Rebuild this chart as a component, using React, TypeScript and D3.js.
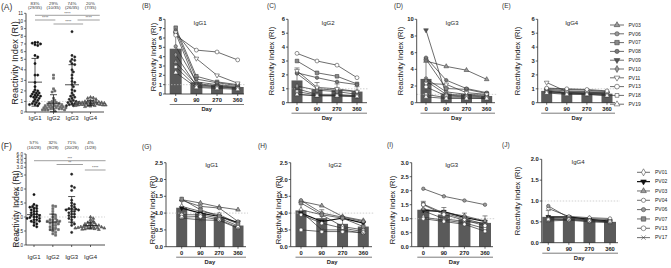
import React from "react";
import * as d3 from "d3";

const FONT = "'Liberation Sans', Arial, Helvetica, sans-serif";

// ---------------- Data ----------------
const scatterGroups = ["IgG1", "IgG2", "IgG3", "IgG4"];

const aPercents = ["83%", "29%", "74%", "20%"];
const aCounts = ["(29/35)", "(10/35)", "(26/35)", "(7/35)"];
const aIgG1 = [7.2, 7.2, 7.1, 7.0, 6.9, 6.8, 5.5, 5.3, 4.6, 3.5, 3.5, 2.8, 2.4, 2.1, 2.0, 1.9, 1.8, 1.8, 1.7, 1.6, 1.6, 1.5, 1.5, 1.4, 1.4, 1.3, 1.2, 1.1, 1.0, 0.9, 0.8, 0.8, 0.7, 0.7, 0.6];
const aIgG2 = [3.5, 3.2, 2.2, 2.0, 1.9, 1.3, 1.1, 1.0, 0.9, 0.9, 0.8, 0.8, 0.7, 0.7, 0.7, 0.6, 0.6, 0.6, 0.5, 0.5, 0.5, 0.5, 0.4, 0.4, 0.4, 0.4, 0.3, 0.3, 0.3, 0.3, 0.2, 0.2, 0.2, 0.2, 0.1];
const aIgG3 = [8.6, 5.5, 5.3, 5.0, 4.9, 4.8, 4.6, 4.5, 4.0, 3.8, 3.5, 3.2, 2.9, 2.8, 2.6, 2.4, 2.1, 2.0, 1.8, 1.6, 1.5, 1.4, 1.3, 1.2, 1.1, 1.0, 1.0, 0.9, 0.9, 0.8, 0.8, 0.7, 0.7, 0.6, 0.6];
const aIgG4 = [1.4, 1.35, 1.3, 1.2, 1.1, 1.05, 1.0, 1.0, 0.95, 0.95, 0.9, 0.9, 0.9, 0.85, 0.85, 0.85, 0.8, 0.8, 0.8, 0.8, 0.75, 0.75, 0.75, 0.7, 0.7, 0.7, 0.7, 0.65, 0.65, 0.65, 0.6, 0.6, 0.6, 0.55, 0.5];
const aTicks = [0, 1, 2, 3, 4, 5, 6, 7, 8, 9, 10, 11];
// [from group, to group, label, row]
const aSig: [number, number, string, number][] = [
  [0, 3.5, "****", 0],
  [0, 1.1, "****", 1],
  [1, 2.6, "****", 2],
  [2.3, 3.5, "****", 1],
];

const fPercents = ["57%", "32%", "71%", "4%"];
const fCounts = ["(16/28)", "(9/28)", "(20/28)", "(1/28)"];
const fIgG1 = [1.8, 1.45, 1.4, 1.38, 1.35, 1.3, 1.3, 1.25, 1.2, 1.2, 1.15, 1.1, 1.1, 1.05, 1.05, 1.0, 1.0, 0.98, 0.95, 0.95, 0.9, 0.9, 0.85, 0.85, 0.8, 0.75, 0.7, 0.65];
const fIgG2 = [1.4, 1.38, 1.3, 1.2, 1.1, 1.05, 1.0, 0.95, 0.9, 0.9, 0.88, 0.85, 0.85, 0.8, 0.8, 0.78, 0.75, 0.7, 0.7, 0.65, 0.6, 0.6, 0.55, 0.55, 0.5, 0.45, 0.4, 0.35];
const fIgG3 = [2.55, 2.1, 2.05, 1.95, 1.6, 1.5, 1.45, 1.4, 1.35, 1.3, 1.3, 1.28, 1.25, 1.25, 1.2, 1.2, 1.15, 1.1, 1.1, 1.05, 1.0, 1.0, 0.95, 0.9, 0.8, 0.75, 0.7, 0.45];
const fIgG4 = [1.0, 0.95, 0.9, 0.85, 0.8, 0.8, 0.78, 0.75, 0.72, 0.7, 0.7, 0.7, 0.68, 0.66, 0.65, 0.65, 0.64, 0.63, 0.62, 0.62, 0.61, 0.6, 0.6, 0.6, 0.58, 0.57, 0.56, 0.55];
const fTicks = [0, 0.5, 1.0, 1.5, 2.0, 2.5, 3.0, 4.0, 5.0, 6.0];
const fSig: [number, number, string, number][] = [
  [0, 3.8, "***", 0],
  [1.2, 2.6, "**", 1],
  [2.7, 3.8, "****", 2],
];

const days = ["0", "90", "270", "360"];

const subjectsTop = ["PV03", "PV06", "PV07", "PV08", "PV09", "PV10", "PV11", "PV13", "PV18", "PV19"];
const bIgG1 = [
  [3.4, 1.0, 0.8, 0.7],
  [5.1, 1.3, 1.0, 0.8],
  [7.1, 1.9, 1.3, 1.0],
  [6.8, 1.6, 1.2, 0.9],
  [6.5, 1.1, 0.9, 0.7],
  [4.2, 0.9, 0.8, 0.6],
  [6.6, 3.8, 2.0, 1.15],
  [6.3, 4.7, 4.5, 3.65],
  [2.9, 0.8, 0.7, 0.6],
  [2.3, 0.7, 0.6, 0.5],
];
const bBars = [4.85, 1.25, 0.95, 0.75];
const bSD = [1.6, 0.5, 0.3, 0.25];

const cIgG2 = [
  [0.6, 0.5, 0.5, 0.45],
  [2.1, 1.0, 0.9, 0.8],
  [3.0, 2.15, 1.9, 1.35],
  [2.15, 1.8, 1.5, 1.3],
  [1.0, 0.6, 0.6, 0.5],
  [1.2, 0.9, 0.8, 0.6],
  [2.3, 1.1, 1.0, 0.8],
  [3.55, 3.0, 2.7, 1.8],
  [0.8, 0.55, 0.5, 0.5],
  [0.6, 0.5, 0.5, 0.45],
];
const cBars = [1.6, 0.95, 0.9, 0.8];
const cSD = [0.9, 0.5, 0.45, 0.35];

const dIgG3 = [
  [5.0, 4.35, 3.9, 2.8],
  [2.9, 1.3, 1.0, 0.9],
  [5.2, 1.7, 1.6, 1.1],
  [5.4, 2.7, 1.7, 1.2],
  [8.7, 0.9, 0.8, 0.7],
  [2.6, 1.0, 0.9, 0.8],
  [2.3, 2.2, 1.2, 1.0],
  [1.9, 0.8, 0.7, 0.6],
  [1.0, 0.6, 0.6, 0.5],
  [0.7, 0.5, 0.5, 0.5],
];
const dBars = [2.85, 1.1, 1.05, 0.8];
const dSD = [2.3, 0.7, 0.6, 0.4];

const eIgG4 = [
  [0.8, 0.7, 0.65, 0.6],
  [1.0, 0.95, 0.9, 0.8],
  [0.9, 0.75, 0.7, 0.7],
  [0.95, 0.85, 0.8, 0.75],
  [0.85, 0.7, 0.7, 0.65],
  [0.8, 0.7, 0.65, 0.6],
  [1.45, 0.8, 0.75, 0.7],
  [1.05, 1.0, 0.95, 0.85],
  [0.75, 0.65, 0.6, 0.55],
  [0.7, 0.6, 0.6, 0.5],
];
const eBars = [0.85, 0.7, 0.65, 0.65];
const eSD = [0.2, 0.1, 0.1, 0.08];

const subjectsBottom = ["PV01", "PV02", "PV03", "PV04", "PV06", "PV07", "PV13", "PV17"];
const gIgG1 = [
  [1.2, 1.05, 0.95, 0.7],
  [1.15, 1.0, 0.9, 0.72],
  [1.4, 1.3, 1.18, 1.1],
  [0.95, 0.95, 0.85, 0.62],
  [1.38, 1.2, 1.15, 0.75],
  [1.42, 1.1, 0.9, 0.68],
  [0.88, 0.9, 0.8, 0.58],
  [0.85, 0.8, 0.78, 0.55],
];
const gBars = [1.16, 1.0, 0.87, 0.63];
const gSD = [0.22, 0.15, 0.13, 0.15];

const hIgG2 = [
  [1.1, 0.95, 0.6, 0.5],
  [1.0, 0.75, 0.85, 0.7],
  [1.35, 1.22, 0.9, 0.78],
  [0.95, 0.7, 0.55, 0.45],
  [1.38, 1.0, 0.88, 0.75],
  [1.3, 0.95, 0.85, 0.6],
  [0.5, 0.45, 0.45, 0.42],
  [1.05, 0.5, 0.5, 0.4],
];
const hBars = [1.08, 0.85, 0.68, 0.6];
const hSD = [0.28, 0.25, 0.17, 0.14];

const iIgG3 = [
  [1.05, 0.95, 0.85, 0.65],
  [1.3, 1.25, 1.05, 0.9],
  [1.35, 1.22, 1.1, 0.92],
  [1.0, 0.9, 0.8, 0.55],
  [2.07, 1.8, 1.65, 1.5],
  [1.52, 1.2, 1.0, 0.8],
  [1.5, 1.15, 0.95, 0.75],
  [1.28, 1.0, 0.9, 0.85],
];
const iBars = [1.32, 1.15, 0.98, 0.85];
const iSD = [0.3, 0.25, 0.22, 0.25];

const jIgG4 = [
  [0.6, 0.6, 0.58, 0.55],
  [0.62, 0.62, 0.56, 0.52],
  [0.58, 0.57, 0.55, 0.51],
  [0.82, 0.63, 0.6, 0.58],
  [0.88, 0.6, 0.54, 0.5],
  [0.56, 0.56, 0.53, 0.5],
  [0.55, 0.55, 0.52, 0.5],
  [0.52, 0.54, 0.5, 0.48],
];
const jBars = [0.62, 0.59, 0.54, 0.5];
const jSD = [0.15, 0.03, 0.03, 0.03];

// ---------------- Styles ----------------
type MStyle = { shape: string; fill: string; stroke?: string; line?: string; lw?: number; size?: number };
const styleMap: Record<string, MStyle> = {
  PV03: { shape: "tri", fill: "#9a9a9a" },
  PV06: { shape: "circle", fill: "#9a9a9a" },
  PV07: { shape: "square", fill: "#8a8a8a", size: 13 },
  PV08: { shape: "circle", fill: "#7a7a7a" },
  PV09: { shape: "triDown", fill: "#555" },
  PV10: { shape: "diamond", fill: "#9a9a9a" },
  PV11: { shape: "triDown", fill: "#fff" },
  PV13: { shape: "circle", fill: "#fff", size: 12 },
  PV18: { shape: "square", fill: "#fff" },
  PV19: { shape: "tri", fill: "#fff" },
  PV01: { shape: "diamond", fill: "#fff" },
  PV02: { shape: "triDown", fill: "#111", stroke: "#111", line: "#111", lw: 1.2 },
  PV04: { shape: "circle", fill: "#fff" },
  PV17: { shape: "x", fill: "none" },
};

function symPath(shape: string, size: number) {
  const t =
    shape === "circle" ? d3.symbolCircle :
    shape === "square" ? d3.symbolSquare :
    shape === "diamond" ? d3.symbolDiamond :
    shape === "x" ? d3.symbolX :
    d3.symbolTriangle;
  return d3.symbol().type(t).size(size)() as string;
}

function Marker({ x, y, st, scale = 1 }: { x: number; y: number; st: MStyle; scale?: number }) {
  const size = (st.size ?? 9.5) * scale;
  const rot = st.shape === "triDown" ? 180 : 0;
  return (
    <path
      d={symPath(st.shape, size)}
      transform={`translate(${x},${y}) rotate(${rot})`}
      fill={st.fill}
      stroke={st.stroke ?? "#3a3a3a"}
      strokeWidth={0.55}
    />
  );
}

// ---------------- Layout configs ----------------
type LineCfg = {
  label: string; labelPos: [number, number]; title: string; titlePos: [number, number];
  axisX: number; y0: number; yTop: number; yMax: number; yStep: number; dec: number;
  x0: number; x1: number; axisEnd: number; barW: number; ylabX: number; ylabY: number;
};

const cfgB: LineCfg = { label: "(B)", labelPos: [142, 8], title: "IgG1", titlePos: [200, 25], axisX: 165, y0: 94, yTop: 19.3, yMax: 8, yStep: 1, dec: 0, x0: 175.7, x1: 237.7, axisEnd: 244, barW: 12, ylabX: 153, ylabY: 57 };
const cfgC: LineCfg = { label: "(C)", labelPos: [267, 8], title: "IgG2", titlePos: [328, 25], axisX: 288, y0: 102.7, yTop: 19.3, yMax: 6, yStep: 1, dec: 0, x0: 297, x1: 357, axisEnd: 367, barW: 11, ylabX: 271, ylabY: 61 };
const cfgD: LineCfg = { label: "(D)", labelPos: [394, 8], title: "IgG3", titlePos: [452, 25], axisX: 416.7, y0: 102.7, yTop: 19.3, yMax: 10, yStep: 2, dec: 0, x0: 426, x1: 486.7, axisEnd: 495, barW: 11, ylabX: 400, ylabY: 61 };
const cfgE: LineCfg = { label: "(E)", labelPos: [502, 8], title: "IgG4", titlePos: [571.7, 25], axisX: 537.7, y0: 102.7, yTop: 19.3, yMax: 6, yStep: 1, dec: 0, x0: 546.7, x1: 607, axisEnd: 615, barW: 11, ylabX: 517, ylabY: 61 };
const cfgG: LineCfg = { label: "(G)", labelPos: [142, 149], title: "IgG1", titlePos: [211.7, 167], axisX: 166, y0: 246.7, yTop: 162.7, yMax: 2.5, yStep: 0.5, dec: 1, x0: 181.7, x1: 238, axisEnd: 246, barW: 11, ylabX: 152, ylabY: 210 };
const cfgH: LineCfg = { label: "(H)", labelPos: [258, 148], title: "IgG2", titlePos: [335, 167], axisX: 290.7, y0: 246.7, yTop: 162.7, yMax: 2.5, yStep: 0.5, dec: 1, x0: 301, x1: 363.3, axisEnd: 372, barW: 11, ylabX: 278, ylabY: 210 };
const cfgI: LineCfg = { label: "(I)", labelPos: [387, 147], title: "IgG3", titlePos: [451.7, 167], axisX: 411.7, y0: 246.7, yTop: 162.7, yMax: 3, yStep: 0.5, dec: 1, x0: 423.3, x1: 485, axisEnd: 493, barW: 12, ylabX: 392, ylabY: 210 };
const cfgJ: LineCfg = { label: "(J)", labelPos: [502, 147], title: "IgG4", titlePos: [578, 164], axisX: 541.7, y0: 242.7, yTop: 159.3, yMax: 2, yStep: 0.5, dec: 1, x0: 548.3, x1: 610, axisEnd: 618, barW: 12, ylabX: 517, ylabY: 201 };

const TICK_FS = 5.8;
const YLAB = "Reactivity Index (RI)";

function LinePanel({ cfg, series, subjects, bars, sds }: { cfg: LineCfg; series: number[][]; subjects: string[]; bars: number[]; sds: number[] }) {
  const x = d3.scalePoint<string>().domain(days).range([cfg.x0, cfg.x1]);
  const y = d3.scaleLinear().domain([0, cfg.yMax]).range([cfg.y0, cfg.yTop]);
  const ticks = d3.range(0, cfg.yMax + 1e-9, cfg.yStep);
  const line = d3.line<number>().x((_, i) => x(days[i]) as number).y((v) => y(v));
  return (
    <g>
      <text x={cfg.labelPos[0]} y={cfg.labelPos[1]} fontSize={6.5} fill="#333">{cfg.label}</text>
      {bars.map((b, i) => (
        <rect key={"b" + i} x={(x(days[i]) as number) - cfg.barW / 2} y={y(b)} width={cfg.barW} height={cfg.y0 - y(b)} fill="#5a5a5a" />
      ))}
      {bars.map((b, i) => {
        const cx = x(days[i]) as number;
        return (
          <g key={"e" + i} stroke="#5a5a5a" strokeWidth={0.7}>
            <line x1={cx} x2={cx} y1={y(b)} y2={y(b + sds[i])} />
            <line x1={cx - 2.5} x2={cx + 2.5} y1={y(b + sds[i])} y2={y(b + sds[i])} />
          </g>
        );
      })}
      <line x1={cfg.axisX} x2={cfg.axisEnd + 2} y1={y(1)} y2={y(1)} stroke="#bdbdbd" strokeWidth={0.7} strokeDasharray="1.5,1.5" />
      {series.map((s, k) => {
        const st = styleMap[subjects[k]];
        return <path key={"l" + k} d={line(s) as string} fill="none" stroke={st.line ?? "#2e2e2e"} strokeWidth={st.lw ?? 0.7} />;
      })}
      {series.map((s, k) => {
        const st = styleMap[subjects[k]];
        return s.map((v, i) => <Marker key={"m" + k + "_" + i} x={x(days[i]) as number} y={y(v)} st={st} />);
      })}
      <line x1={cfg.axisX} x2={cfg.axisX} y1={cfg.yTop} y2={cfg.y0} stroke="#222" strokeWidth={0.8} />
      <line x1={cfg.axisX} x2={cfg.axisEnd} y1={cfg.y0} y2={cfg.y0} stroke="#222" strokeWidth={0.8} />
      {ticks.map((t) => (
        <g key={"t" + t}>
          <line x1={cfg.axisX - 2} x2={cfg.axisX} y1={y(t)} y2={y(t)} stroke="#222" strokeWidth={0.7} />
          <text x={cfg.axisX - 3} y={y(t)} dy="0.35em" textAnchor="end" fontSize={TICK_FS} fontWeight="bold" fill="#222">{t.toFixed(cfg.dec)}</text>
        </g>
      ))}
      {days.map((d) => (
        <g key={"x" + d}>
          <line x1={x(d) as number} x2={x(d) as number} y1={cfg.y0} y2={cfg.y0 + 2} stroke="#222" strokeWidth={0.7} />
          <text x={x(d) as number} y={cfg.y0 + 8} textAnchor="middle" fontSize={TICK_FS} fontWeight="bold" fill="#222">{d}</text>
        </g>
      ))}
      <line x1={cfg.x0 - cfg.barW / 2} x2={cfg.axisEnd} y1={cfg.y0 + 10.5} y2={cfg.y0 + 10.5} stroke="#444" strokeWidth={0.7} />
      <text x={(cfg.x0 + cfg.x1) / 2} y={cfg.y0 + 17} textAnchor="middle" fontSize={5.8} fontWeight="bold" fill="#222">Day</text>
      <text x={cfg.titlePos[0]} y={cfg.titlePos[1]} textAnchor="middle" fontSize={6} fill="#222">{cfg.title}</text>
      <text transform={`translate(${cfg.ylabX},${cfg.ylabY}) rotate(-90)`} textAnchor="middle" dominantBaseline="central" fontSize={7.6} fill="#222">{YLAB}</text>
    </g>
  );
}

type ScatterCfg = {
  label: string; labelPos: [number, number]; axisX: number; axisEnd: number;
  yDomain: number[]; yRange: number[]; gx0: number; gx1: number; xLabY: number;
  pctY: number; cntY: number; sigRows: number[]; ylabX: number; ylabY: number; ylabFs: number; dec: number;
};

const cfgA: ScatterCfg = { label: "(A)", labelPos: [1, 10], axisX: 26, axisEnd: 104, yDomain: [0, 5, 11], yRange: [112, 59.3, 13.3], gx0: 35, gx1: 90.5, xLabY: 119.5, pctY: 4.8, cntY: 9.2, sigRows: [15.3, 20, 24], ylabX: 15, ylabY: 63, ylabFs: 9.3, dec: 0 };
const cfgF: ScatterCfg = { label: "(F)", labelPos: [1, 149], axisX: 26, axisEnd: 105, yDomain: [0, 2.5, 3, 6], yRange: [245, 175, 167.3, 154], gx0: 34, gx1: 90.5, xLabY: 259, pctY: 144.3, cntY: 148.5, sigRows: [160.7, 164.5, 170], ylabX: 16, ylabY: 209, ylabFs: 8.6, dec: 1 };

const groupMarkers: MStyle[] = [
  { shape: "circle", fill: "#111", stroke: "#111", size: 4 },
  { shape: "square", fill: "#777", stroke: "#555", size: 4 },
  { shape: "circle", fill: "#222", stroke: "#222", size: 4 },
  { shape: "tri", fill: "#666", stroke: "#444", size: 4 },
];

function swarm(values: number[], yf: (v: number) => number, cx: number, d: number) {
  const pts = values.map((v) => ({ v, y: yf(v), x: cx })).sort((a, b) => a.y - b.y);
  const placed: { x: number; y: number }[] = [];
  const cands = [0];
  for (let i = 1; i < 12; i++) cands.push(i * d * 0.6, -i * d * 0.6);
  for (const p of pts) {
    for (const off of cands) {
      const xx = cx + off;
      if (placed.every((q) => (q.x - xx) ** 2 + (q.y - p.y) ** 2 >= d * d)) { p.x = xx; break; }
    }
    placed.push({ x: p.x, y: p.y });
  }
  return pts;
}

function ScatterPanel({ cfg, groups, ticks, pcts, cnts, sig }: { cfg: ScatterCfg; groups: number[][]; ticks: number[]; pcts: string[]; cnts: string[]; sig: [number, number, string, number][] }) {
  const y = d3.scaleLinear().domain(cfg.yDomain).range(cfg.yRange);
  const gx = d3.scaleLinear().domain([0, 3]).range([cfg.gx0, cfg.gx1]);
  const yTop = cfg.yRange[cfg.yRange.length - 1];
  const y0 = cfg.yRange[0];
  return (
    <g>
      <text x={cfg.labelPos[0]} y={cfg.labelPos[1]} fontSize={8.5} fill="#333">{cfg.label}</text>
      <line x1={cfg.axisX} x2={cfg.axisEnd} y1={y(1)} y2={y(1)} stroke="#c4c4c4" strokeWidth={0.7} strokeDasharray="1.5,1.5" />
      {groups.map((vals, g) => {
        const pts = swarm(vals, y, gx(g), 2.3);
        const m = d3.mean(vals) as number;
        const sd = d3.deviation(vals) as number;
        const cx = gx(g);
        return (
          <g key={"g" + g}>
            {pts.map((p, i) => <Marker key={i} x={p.x} y={p.y} st={groupMarkers[g]} />)}
            <g stroke="#222" strokeWidth={0.8}>
              <line x1={cx - 7} x2={cx + 7} y1={y(m)} y2={y(m)} />
              <line x1={cx} x2={cx} y1={y(Math.max(0, m - sd))} y2={y(m + sd)} />
              <line x1={cx - 3.5} x2={cx + 3.5} y1={y(m + sd)} y2={y(m + sd)} />
              <line x1={cx - 3.5} x2={cx + 3.5} y1={y(Math.max(0, m - sd))} y2={y(Math.max(0, m - sd))} />
            </g>
            <text x={cx} y={cfg.pctY} textAnchor="middle" fontSize={4.4} fill="#333">{pcts[g]}</text>
            <text x={cx} y={cfg.cntY} textAnchor="middle" fontSize={4.4} fill="#333">{cnts[g]}</text>
            <line x1={cx} x2={cx} y1={y0} y2={y0 + 2} stroke="#222" strokeWidth={0.7} />
            <text x={cx} y={cfg.xLabY} textAnchor="middle" fontSize={6} fill="#222">{scatterGroups[g]}</text>
          </g>
        );
      })}
      {sig.map(([a, b, lab, row], i) => (
        <g key={"s" + i}>
          <line x1={gx(a)} x2={gx(b)} y1={cfg.sigRows[row]} y2={cfg.sigRows[row]} stroke="#777" strokeWidth={0.7} />
          <text x={(gx(a) + gx(b)) / 2} y={cfg.sigRows[row] - 0.8} textAnchor="middle" fontSize={4} fill="#444">{lab}</text>
        </g>
      ))}
      <line x1={cfg.axisX} x2={cfg.axisX} y1={yTop} y2={y0} stroke="#222" strokeWidth={0.8} />
      <line x1={cfg.axisX} x2={cfg.axisEnd} y1={y0} y2={y0} stroke="#222" strokeWidth={0.8} />
      {ticks.map((t) => (
        <g key={"t" + t}>
          <line x1={cfg.axisX - 2} x2={cfg.axisX} y1={y(t)} y2={y(t)} stroke="#222" strokeWidth={0.6} />
          <text x={cfg.axisX - 3} y={y(t)} dy="0.35em" textAnchor="end" fontSize={4.6} fill="#222">{t.toFixed(cfg.dec)}</text>
        </g>
      ))}
      <text transform={`translate(${cfg.ylabX},${cfg.ylabY}) rotate(-90)`} textAnchor="middle" dominantBaseline="central" fontSize={cfg.ylabFs} fill="#222">{YLAB}</text>
    </g>
  );
}

function Legend({ subjects, x0, x1, tx, yStart, step }: { subjects: string[]; x0: number; x1: number; tx: number; yStart: number; step: number }) {
  const yl = d3.scaleLinear().domain([0, 1]).range([yStart, yStart + step]);
  return (
    <g>
      {subjects.map((s, i) => {
        const st = styleMap[s];
        const yy = yl(i);
        return (
          <g key={s}>
            <line x1={x0} x2={x1} y1={yy} y2={yy} stroke={st.line ?? "#2e2e2e"} strokeWidth={st.lw ?? 0.7} />
            <Marker x={(x0 + x1) / 2} y={yy} st={st} scale={1.5} />
            <text x={tx} y={yy} dy="0.35em" fontSize={5} fill="#222">{s}</text>
          </g>
        );
      })}
    </g>
  );
}

export default function App() {
  return (
    <div style={{ position: "fixed", left: 0, top: 0 }}>
      <svg width={671} height={268} viewBox="0 0 671 268" style={{ display: "block", fontFamily: FONT, background: "#fff" }}>
        <rect width={671} height={268} fill="#fff" />
        <ScatterPanel cfg={cfgA} groups={[aIgG1, aIgG2, aIgG3, aIgG4]} ticks={aTicks} pcts={aPercents} cnts={aCounts} sig={aSig} />
        <ScatterPanel cfg={cfgF} groups={[fIgG1, fIgG2, fIgG3, fIgG4]} ticks={fTicks} pcts={fPercents} cnts={fCounts} sig={fSig} />
        <LinePanel cfg={cfgB} series={bIgG1} subjects={subjectsTop} bars={bBars} sds={bSD} />
        <LinePanel cfg={cfgC} series={cIgG2} subjects={subjectsTop} bars={cBars} sds={cSD} />
        <LinePanel cfg={cfgD} series={dIgG3} subjects={subjectsTop} bars={dBars} sds={dSD} />
        <LinePanel cfg={cfgE} series={eIgG4} subjects={subjectsTop} bars={eBars} sds={eSD} />
        <LinePanel cfg={cfgG} series={gIgG1} subjects={subjectsBottom} bars={gBars} sds={gSD} />
        <LinePanel cfg={cfgH} series={hIgG2} subjects={subjectsBottom} bars={hBars} sds={hSD} />
        <LinePanel cfg={cfgI} series={iIgG3} subjects={subjectsBottom} bars={iBars} sds={iSD} />
        <LinePanel cfg={cfgJ} series={jIgG4} subjects={subjectsBottom} bars={jBars} sds={jSD} />
        <Legend subjects={subjectsTop} x0={610} x1={624} tx={628.5} yStart={25} step={8.8} />
        <Legend subjects={subjectsBottom} x0={637} x1={650} tx={655} yStart={172.3} step={9.33} />
      </svg>
    </div>
  );
}
